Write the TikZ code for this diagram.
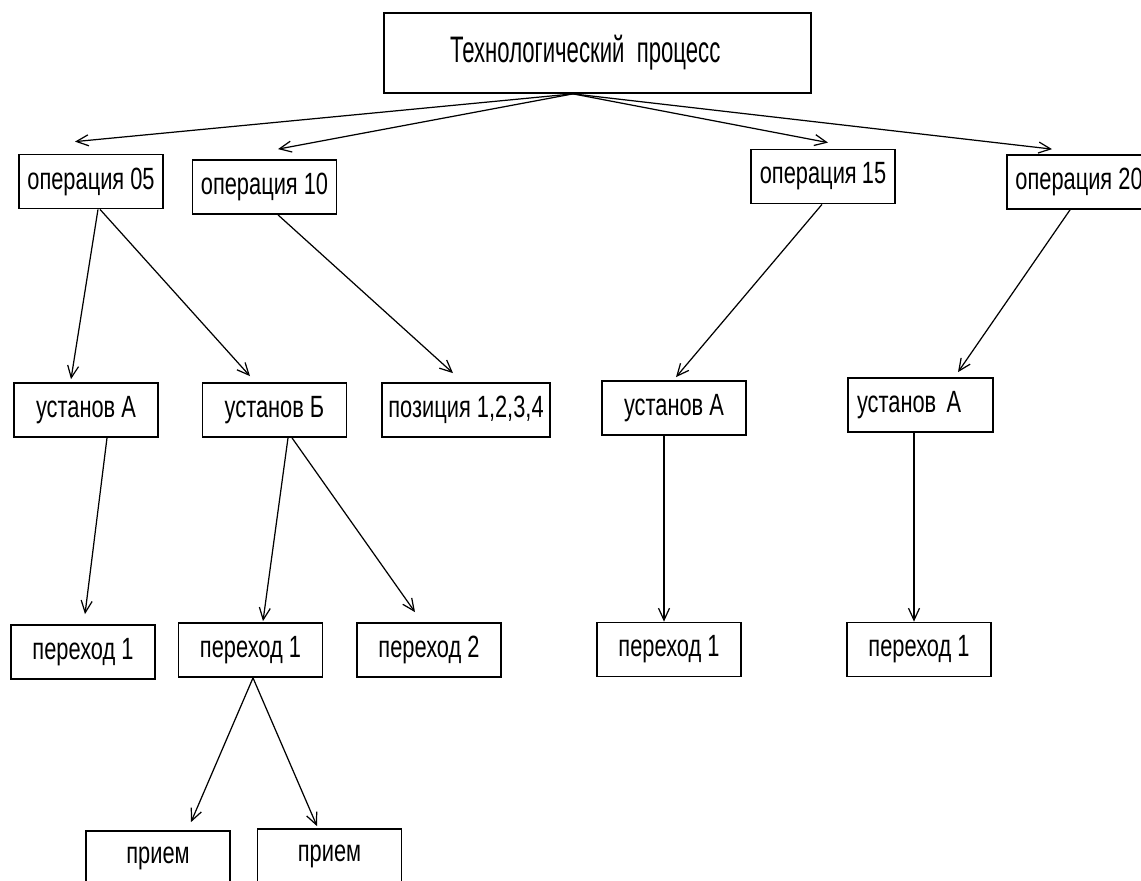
\documentclass[tikz,border=0pt]{standalone}
\usepackage{fontspec}
\setmainfont{Liberation Sans}[FakeStretch=0.71]
\newfontfamily\procfont{Liberation Sans}[FakeStretch=0.6]
\usetikzlibrary{arrows.meta,calc}

\begin{document}
\begin{tikzpicture}[x=0.02cm,y=-0.02cm,
    box/.style={draw,line width=1pt,rectangle,minimum width=2.88cm,minimum height=1.08cm,inner sep=0pt,font=\fontsize{17.5}{20}\selectfont},
    link/.style={-{Straight Barb[length=2.4mm,width=2.2mm]},line width=0.7pt}]
    \clip (0,0) rectangle (1141,881);
    % process
    \node[box,minimum height=1.6cm,text width=5.9cm,inner xsep=1.32cm,align=left,font=\procfont\fontsize{21}{25}\selectfont] (T) at (597.5,53) {Технологический процесс};
    \coordinate (hub) at ($(T.south)+(-24.5,0)$);
    % operations
    \node[box] (O05) at (91,181.5) {операция 05};
    \node[box] (O10) at (264.5,187) {операция 10};
    \node[box] (O15) at (823,176.5) {операция\,15};
    \node[box] (O20) at (1079,182) {операция 20};
    % setups
    \node[box] (UA1) at (86,410) {установ А};
    \node[box] (UB) at (274.5,410) {установ Б};
    \node[box,minimum width=3.36cm] (P) at (466,410) {позиция 1,2,3,4};
    \node[box] (UA3) at (674,408) {установ А};
    \node[box,text width=2.54cm,inner xsep=0.18cm,align=left] (UA4) at (920.5,405) {установ А};
    % steps
    \node[box] (T1a) at (83,652) {переход 1};
    \node[box] (T1b) at (250.5,650) {переход 1};
    \node[box] (T2) at (429,650) {переход 2};
    \node[box] (T1c) at (669,649.5) {переход 1};
    \node[box] (T1d) at (919,649.5) {переход 1};
    \node[box] (Ra) at (158,858) {прием};
    \node[box] (Rb) at (329.5,856) {прием};

    \draw[link] (hub) -- ($(O05.north)+(-16,-12)$);
    \draw[link] (hub) -- ($(O10.north)+(13.5,-10)$);
    \draw[link] (hub) -- ($(O15.north)+(5,-6)$);
    \draw[link] (hub) -- ($(O20.north)+(-27,-5)$);
    \draw[link] ($(O05.south)+(7,0)$) -- ($(UA1.north)+(-15,-3)$);
    \draw[link] ($(O05.south)+(9,0)$) -- ($(UB.north)+(-24.5,-6)$);
    \draw[link] ($(O10.south)+(13.5,0)$) -- ($(P.north)+(-13,-9)$);
    \draw[link] ($(O15.south)+(-1,0)$) -- ($(UA3.north)+(2,-3)$);
    \draw[link] ($(O20.south)+(-9,0)$) -- ($(UA4.north)+(37.5,-5)$);
    \draw[link] ($(UA1.south)+(21,0)$) -- ($(T1a.north)+(2,-10)$);
    \draw[link] ($(UB.south)+(13.5,0)$) -- ($(T1b.north)+(12.5,-1)$);
    \draw[link] ($(UB.south)+(17.5,0)$) -- ($(T2.north)+(-14,-10)$);
    \draw[link] ($(UA3.south)+(-10,0)$) -- ($(T1c.north)+(-5,0)$);
    \draw[link] ($(UA4.south)+(-6.5,0)$) -- ($(T1d.north)+(-5,0)$);
    \draw[link] ($(T1b.south)+(2.5,0)$) -- ($(Ra.north)+(33,-8)$);
    \draw[link] ($(T1b.south)+(2.5,0)$) -- ($(Rb.north)+(-12.5,-2)$);
\end{tikzpicture}
\end{document}
